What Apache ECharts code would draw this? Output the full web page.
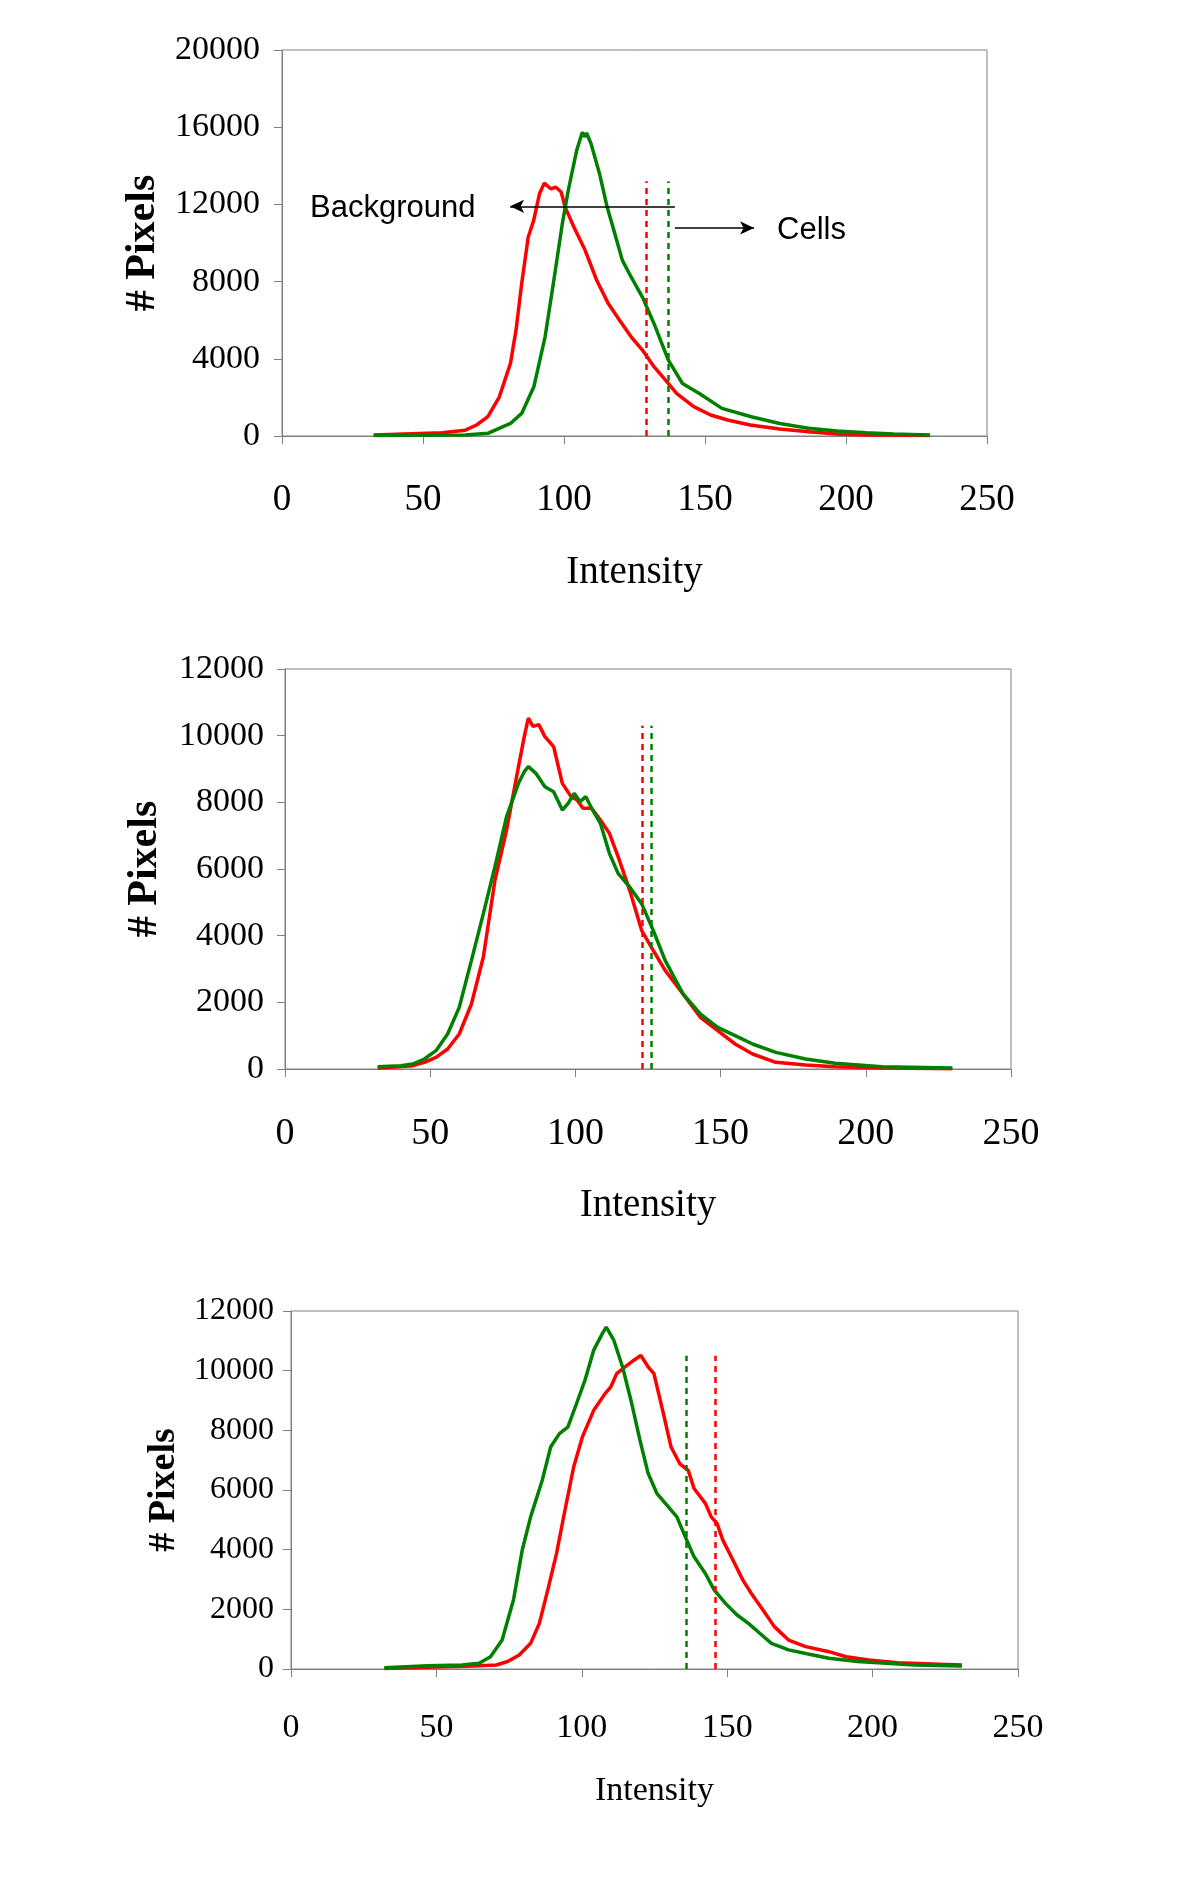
<!DOCTYPE html>
<html>
<head>
<meta charset="utf-8">
<script src="https://cdn.jsdelivr.net/npm/echarts@6/dist/echarts.min.js"></script>
<style>
html,body{margin:0;padding:0;background:#fff;}
#chart{width:1196px;height:1882px;}
</style>
</head>
<body>
<div id="chart"></div>
<script>
// ---------- Chart 1 ----------
const red1X = [32.5,56.8,65,69,73,77,81,83,85,87.3,89.3,91.3,93,95.4,97,99,100.4,103.5,107.5,111.6,115.7,119.7,123.8,127.8,131.9,136,140,146,152,158,166,176.5,186.7,196.8,207,229.7];
const red1Y = [50,170,300,570,1000,2000,3760,5500,7900,10300,11200,12550,13100,12800,12900,12640,11860,10830,9620,8070,6860,6000,5140,4450,3590,2900,2200,1520,1090,830,570,360,220,100,50,20];
const green1X = [32.5,65,73,77,81,85,89.3,93.3,96.4,99.4,101.5,104.5,106.5,107.3,108,109.6,112.6,115.3,117.7,120.7,123.8,127.8,131.9,137,142,148,156,166.4,176.5,186.7,196.8,207,217,229.7];
const green1Y = [30,50,140,400,650,1170,2550,5140,8070,11000,12720,14800,15740,15500,15700,15140,13590,11860,10650,9100,8240,7200,5830,3930,2720,2200,1430,1000,650,400,260,170,100,50];
const thresh1 = {red: 129, green: 137, top: 13200};

// ---------- Chart 2 ----------
const red2X = [31.9,44,48,52,56,60,64.2,68.3,72.3,76.3,80.4,82.4,83.8,85.4,87.4,89.5,92.5,95.5,98.5,100.6,102.6,105.6,108.6,111.7,114.7,118.7,122.8,126.8,130.9,137,143,149,155,161,169,179.3,189.4,205.6,229.8];
const red2Y = [20,100,200,350,600,1050,1950,3360,5660,7170,9070,9970,10530,10280,10330,9970,9670,8570,8170,8070,7820,7820,7470,7070,6370,5360,4160,3560,2960,2260,1550,1150,750,450,200,120,70,30,10];
const green2X = [31.9,40,44,48,52,56,60,64.2,68.3,72.3,76.3,80.4,82.4,83.8,86.4,89.5,92.5,95.5,97.5,99.6,101.6,103.6,105.6,108.6,111.7,114.7,118.7,122.8,126.8,130.9,137,143,149,155,161,169,179.3,189.4,205.6,229.8];
const green2Y = [70,100,150,300,550,1050,1850,3260,4660,6070,7570,8570,8920,9070,8870,8470,8320,7770,7970,8270,8020,8170,7820,7370,6470,5870,5460,4960,4160,3260,2260,1650,1250,1000,750,500,300,170,70,30];
const thresh2 = {red: 123, green: 126, top: 10300};

// ---------- Chart 3 ----------
const red3X = [32.1,47,62.7,70.6,74.5,78.5,82.4,85.4,88.3,91.3,94.2,97.2,100.2,104.1,108,110,112,114.9,117.9,120.3,122.8,124.8,127.8,130.7,133.7,136.6,138.6,142.5,144.5,146.5,148.5,151.4,155.4,158.3,162.3,166.2,171.1,177,185,190.9,198.7,208.6,220.4,230.7];
const red3Y = [20,55,100,135,250,470,860,1530,2650,3870,5320,6770,7780,8670,9230,9460,9900,10130,10350,10510,10130,9900,8670,7440,6880,6660,6050,5550,5100,4880,4320,3760,2980,2530,1980,1420,970,750,580,410,300,210,170,135];
const green3X = [32.1,47,58.8,64.7,68.6,72.6,76.5,79.5,82.4,86.4,89.3,92.3,95.2,98.2,101.1,104.1,107.1,108.4,111,114,116.9,120,122.8,125.8,129.7,132.7,135.6,138.6,142.5,145.5,149.4,153.4,157.3,161.3,165.2,171.1,177,185,194.8,204.7,214.5,230.7];
const green3Y = [45,110,135,190,410,970,2310,3980,5100,6330,7440,7890,8110,8900,9680,10690,11250,11460,11020,10130,9010,7670,6560,5890,5440,5100,4430,3760,3200,2650,2200,1810,1530,1190,860,640,520,360,250,190,130,100];
const thresh3 = {red: 146, green: 136, top: 10500};

// axis ticks
const xTicks = {min: 0, max: 250, interval: 50};
const yTicks1 = {min: 0, max: 20000, interval: 4000};
const yTicks23 = {min: 0, max: 12000, interval: 2000};

// annotation arrows (chart 1), data coordinates
const arrowBackground = [[139.3, 11900], [80.9, 11900]];
const arrowCells = [[139.3, 10780], [167.4, 10780]];

const RED = '#ff0000', GREEN = '#008000', GREY = '#808080';
const SERIF = '"Liberation Serif","Times New Roman",serif';
const SANS = '"Liberation Sans",Arial,sans-serif';

function pairs(xs, ys){ return xs.map((x,i)=>[x, ys[i]]); }

const grids = [
  {left: 282, top: 50, width: 705, height: 386},
  {left: 285, top: 669, width: 726, height: 400},
  {left: 291, top: 1311, width: 727, height: 358}
];
const fonts = [
  {xl: 37, yl: 34, name: 39, yname: 42, xlm: 46, ylm: 22, xng: 117, yng: 117},
  {xl: 38, yl: 34, name: 39, yname: 42, xlm: 46, ylm: 21, xng: 117, yng: 119},
  {xl: 34, yl: 32, name: 34, yname: 38, xlm: 42, ylm: 17, xng: 105, yng: 105}
];
const yTickSets = [yTicks1, yTicks23, yTicks23];

const xAxes = grids.map((g,i)=>({
  type: 'value', gridIndex: i, min: xTicks.min, max: xTicks.max, interval: xTicks.interval,
  name: 'Intensity', nameLocation: 'middle', nameGap: fonts[i].xng,
  nameTextStyle: {fontFamily: SERIF, fontSize: fonts[i].name, color: '#000'},
  axisLine: {show: true, lineStyle: {color: GREY, width: 1}},
  axisTick: {show: true, length: 8, lineStyle: {color: GREY}},
  axisLabel: {fontFamily: SERIF, fontSize: fonts[i].xl, color: '#000', margin: fonts[i].xlm, formatter: v => String(v)},
  splitLine: {show: false}
}));
const yAxes = grids.map((g,i)=>({
  type: 'value', gridIndex: i, min: yTickSets[i].min, max: yTickSets[i].max, interval: yTickSets[i].interval,
  name: '# Pixels', nameLocation: 'middle', nameGap: fonts[i].yng, nameRotate: 90,
  nameTextStyle: {fontFamily: SERIF, fontSize: fonts[i].yname, fontWeight: 'bold', color: '#000'},
  axisLine: {show: true, lineStyle: {color: GREY, width: 1}},
  axisTick: {show: true, length: 8, lineStyle: {color: GREY}},
  axisLabel: {fontFamily: SERIF, fontSize: fonts[i].yl, color: '#000', margin: fonts[i].ylm, formatter: v => String(v)},
  splitLine: {show: false}
}));

function dotted(x, top, color){
  return [{coord: [x, 0], lineStyle: {color: color, type: [6, 5], width: 2.5}}, {coord: [x, top]}];
}
function curve(i, xs, ys, color, markData){
  const s = {
    type: 'line', xAxisIndex: i, yAxisIndex: i, data: pairs(xs, ys),
    showSymbol: false, symbol: 'none', animation: false, silent: true,
    lineStyle: {color: color, width: 3.5}, itemStyle: {color: color}, z: 3
  };
  if (markData) {
    s.markLine = {silent: true, animation: false, symbol: ['none','none'], label: {show: false}, data: markData};
  }
  return s;
}

const series = [
  curve(0, red1X, red1Y, RED, [dotted(thresh1.red, thresh1.top, RED)]),
  curve(0, green1X, green1Y, GREEN, [dotted(thresh1.green, thresh1.top, GREEN)]),
  curve(1, red2X, red2Y, RED, [dotted(thresh2.red, thresh2.top, RED)]),
  curve(1, green2X, green2Y, GREEN, [dotted(thresh2.green, thresh2.top, GREEN)]),
  curve(2, red3X, red3Y, RED, [dotted(thresh3.red, thresh3.top, RED)]),
  curve(2, green3X, green3Y, GREEN, [dotted(thresh3.green, thresh3.top, GREEN)]),
  {
    type: 'line', xAxisIndex: 0, yAxisIndex: 0, data: [], silent: true,
    markLine: {
      silent: true, animation: false, symbol: ['none','arrow'], symbolSize: [10, 14],
      label: {show: false},
      lineStyle: {color: '#000', width: 1.5, type: 'solid'},
      data: [
        [{coord: arrowBackground[0]}, {coord: arrowBackground[1]}],
        [{coord: arrowCells[0]}, {coord: arrowCells[1]}]
      ]
    }
  }
];

const chart = echarts.init(document.getElementById('chart'), null, {renderer: 'canvas'});
chart.setOption({
  backgroundColor: '#fff',
  animation: false,
  grid: grids.map(g=>Object.assign({show: true, borderColor: GREY, borderWidth: 1, backgroundColor: 'transparent', containLabel: false, outerBoundsMode: 'none'}, g)),
  xAxis: xAxes,
  yAxis: yAxes,
  series: series,
  graphic: [
    {type: 'text', left: 310, top: 193, style: {text: 'Background', font: '31px ' + SANS, fill: '#000'}},
    {type: 'text', left: 777, top: 215, style: {text: 'Cells', font: '31px ' + SANS, fill: '#000'}}
  ]
});
</script>
</body>
</html>
